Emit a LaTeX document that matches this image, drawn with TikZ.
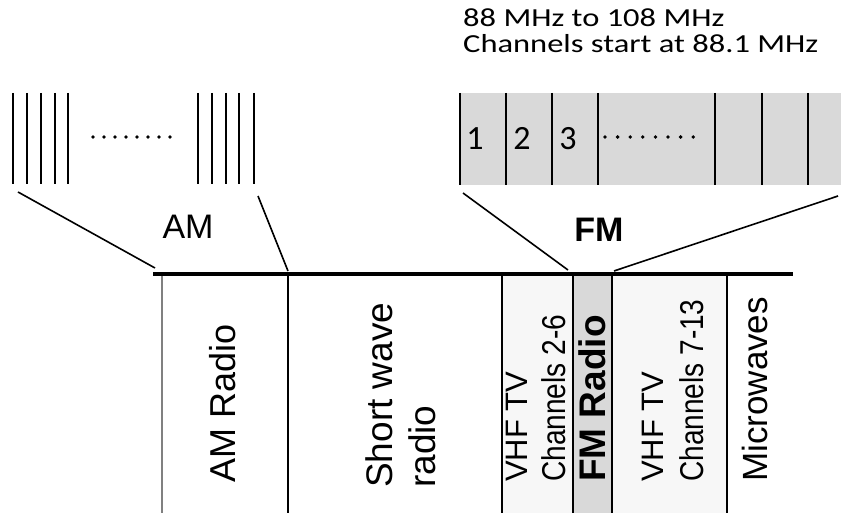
\documentclass[tikz,border=0pt]{standalone}
\usepackage{fontspec}
\setmainfont{Liberation Sans}
\newfontfamily\hdrfont[FakeStretch=1.25]{Carlito}
\newfontfamily\chanfont{Carlito}
\newfontfamily\narrowfont[FakeStretch=0.85]{Liberation Sans}
\usetikzlibrary{calc}

\begin{document}
\begin{tikzpicture}[x=1pt,y=-1pt,
 band/.style={rotate=90,anchor=west,inner sep=0pt,align=left},
 tick/.style={line width=2.8pt},
 zoomline/.style={line width=1.6pt},
 divider/.style={line width=2pt},
 chan/.style={anchor=base,inner sep=0pt,font=\chanfont\fontsize{34}{38}\selectfont}]
\useasboundingbox (0,0) rectangle (841,513);

% AM channels
\foreach \x in {13,27,41,55,68,198,212,226,239,254}
  \draw[tick] (\x,93) -- (\x,184);
\foreach \i in {0,...,7}
  \fill ($(93,137)+(\i*11,0)$) circle (1.8pt);
\node[inner sep=0pt,font=\fontsize{34}{38}\selectfont] (amlabel) at (188,227) {AM};

% FM channels
\fill[gray!30] (460,93) rectangle (841,185);
\foreach \x in {460,506,552,598,715,762,808}
  \draw[tick] (\x,93) -- (\x,185);
\node[chan] (ch1) at (475,150) {1};
\node[chan] (ch2) at (522,150) {2};
\node[chan] (ch3) at (568,150) {3};
\foreach \i in {0,...,7}
  \fill ($(605,137)+(\i*12.6,0)$) circle (1.9pt);
\node[anchor=base west,inner sep=0pt,font=\hdrfont\fontsize{26}{30}\selectfont] (range) at (463,27) {88 MHz to 108 MHz};
\node[anchor=base west,inner sep=0pt,font=\hdrfont\fontsize{26}{30}\selectfont] (start) at (463,53) {Channels start at 88.1 MHz};
\node[inner sep=0pt,font=\bfseries\fontsize{34}{38}\selectfont] (fmlabel) at (599,230) {FM};

% spectrum
\fill[gray!6] (502,276) rectangle (573,513);
\fill[gray!6] (612,276) rectangle (727,513);
\fill[gray!30] (573,276) rectangle (612,513);
\draw[gray,line width=1.2pt] (162,274) -- (162,513);
\foreach \x in {288,502,573,612}
  \draw[divider] (\x,274) -- (\x,513);
\draw[line width=1.2pt] (727,274) -- (727,513);
\draw[line width=4pt] (153,274) -- (793,274);

\node[band,font=\fontsize{36}{40}\selectfont] (amradio) at (223,483) {AM Radio};
\node[band,font=\fontsize{37}{43}\selectfont] (shortwave) at (401,488) {Short wave\\radio};
\node[band,font=\fontsize{31}{38}\selectfont] (vhflow) at (536,482)
  {VHF TV\\{\narrowfont\fontsize{33}{38}\selectfont Channels 2-6}};
\node[band,font=\bfseries\fontsize{37}{40}\selectfont] (fmradio) at (592,482) {FM Radio};
\node[band,font=\fontsize{31}{40}\selectfont] (vhfhigh) at (673,482)
  {VHF TV\\{\narrowfont\fontsize{33}{40}\selectfont Channels 7-13}};
\node[band,font=\fontsize{35}{40}\selectfont] (micro) at (755,482) {Microwaves};

% zoom lines
\coordinate (amL) at (18,192);
\coordinate (amR) at (258,196);
\coordinate (fmL) at (463,193);
\coordinate (fmR) at (838,196);
\coordinate (amstart) at (155,268);
\coordinate (amend) at (288,271);
\coordinate (fmstart) at (568,270);
\coordinate (fmend) at (614,271);
\draw[zoomline] (amL) -- (amstart);
\draw[zoomline] (amR) -- (amend);
\draw[zoomline] (fmL) -- (fmstart);
\draw[zoomline] (fmR) -- (fmend);
\end{tikzpicture}
\end{document}
